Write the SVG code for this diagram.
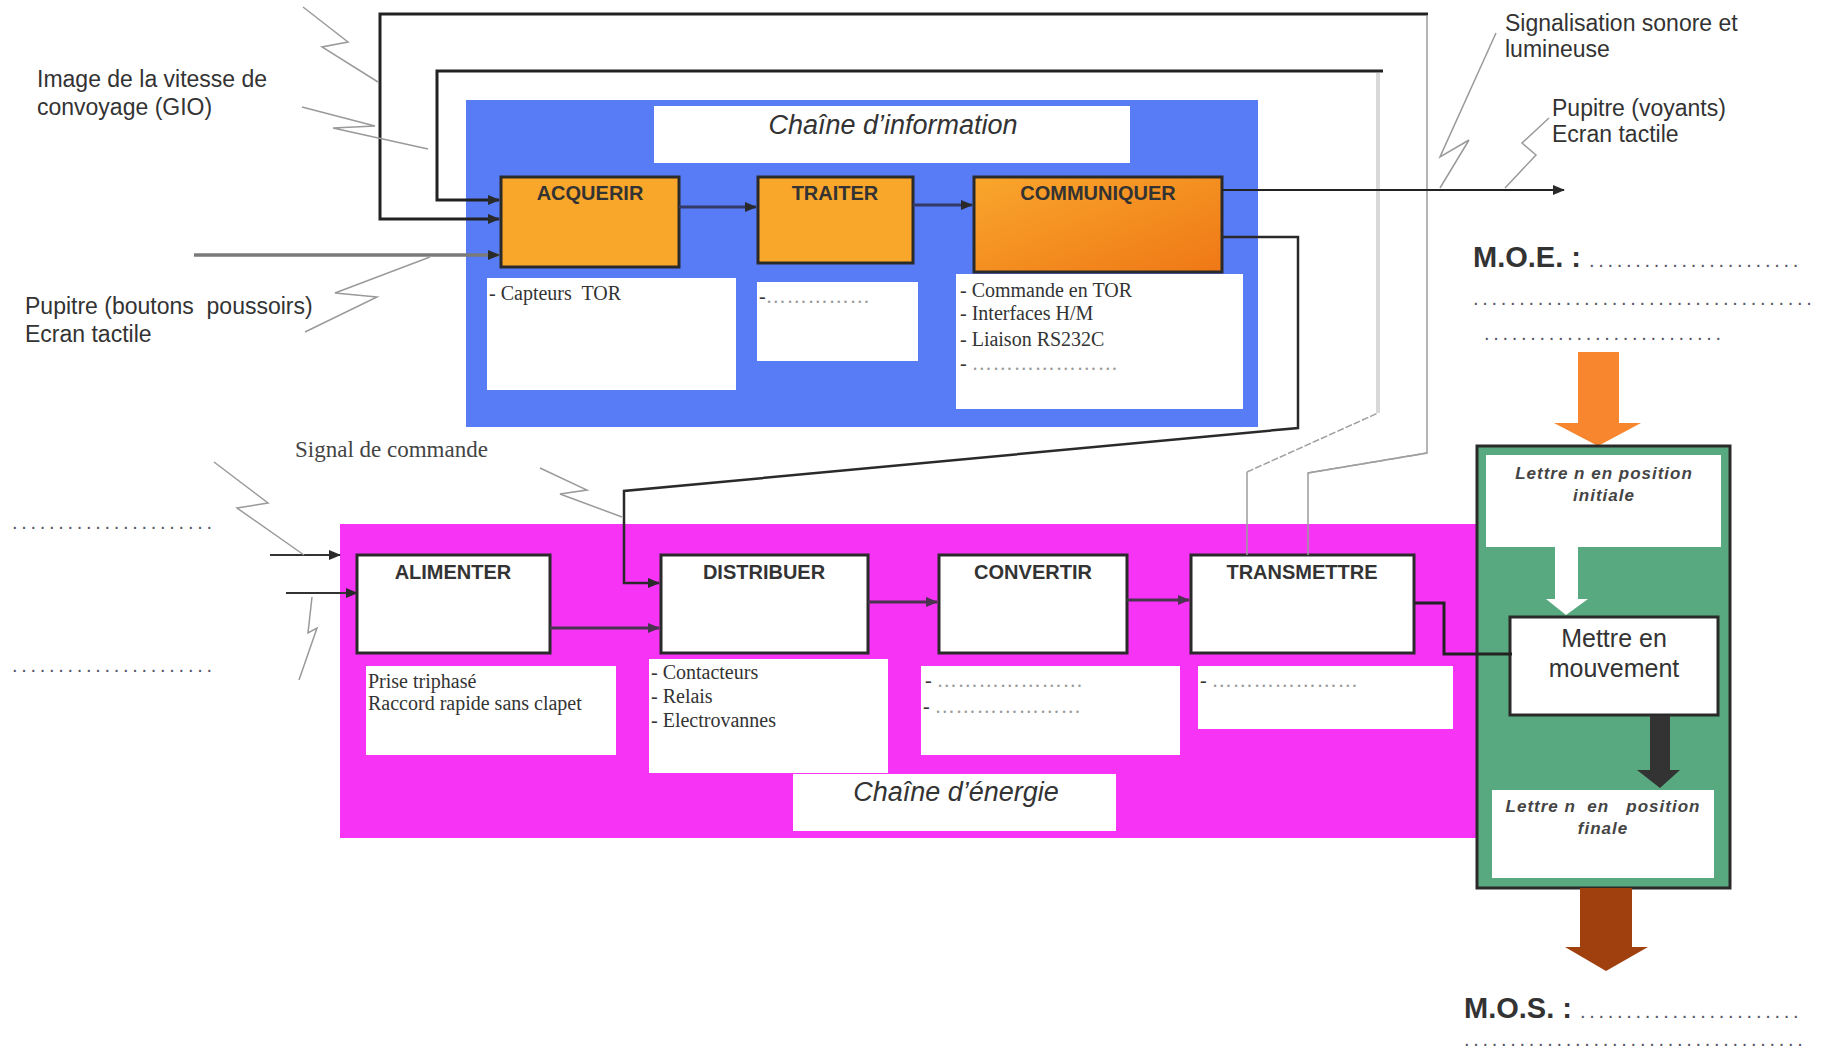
<svg xmlns="http://www.w3.org/2000/svg" width="1826" height="1054" viewBox="0 0 1826 1054">
<defs>
  <linearGradient id="gComm" x1="0" y1="0" x2="1" y2="1">
    <stop offset="0" stop-color="#f9a62c"/>
    <stop offset="1" stop-color="#ef7816"/>
  </linearGradient>
  <marker id="ah" markerWidth="12" markerHeight="10" refX="11" refY="5" orient="auto" markerUnits="userSpaceOnUse">
    <path d="M0,0 L12,5 L0,10 z" fill="#2a2a2a"/>
  </marker>
  <marker id="ahp" markerWidth="12" markerHeight="10" refX="11" refY="5" orient="auto" markerUnits="userSpaceOnUse">
    <path d="M0,0 L12,5 L0,10 z" fill="#4a3450"/>
  </marker>
</defs>
<style>
  .lbl{font-family:"Liberation Sans",Arial,sans-serif;font-size:23px;fill:#333}
  .fn{font-family:"Liberation Sans",Arial,sans-serif;font-size:20px;font-weight:bold;fill:#333;text-anchor:middle}
  .ttl{font-family:"Liberation Sans",Arial,sans-serif;font-size:27px;font-style:italic;fill:#333;text-anchor:middle}
  .ser{font-family:"Liberation Serif","Times New Roman",serif;font-size:20px;fill:#333}
  .sig{font-family:"Liberation Serif","Times New Roman",serif;font-size:23px;fill:#444}
  .dl{fill:#999;letter-spacing:1px}
  .big{font-family:"Liberation Sans",Arial,sans-serif;font-size:29px;font-weight:bold;fill:#333}
  .lead{font-family:"Liberation Sans",Arial,sans-serif;font-size:20px;font-weight:normal;fill:#556;letter-spacing:3.7px}
  .it{font-family:"Liberation Sans",Arial,sans-serif;font-size:17px;font-weight:bold;font-style:italic;fill:#444;text-anchor:middle;letter-spacing:1px}
  .mv{font-family:"Liberation Sans",Arial,sans-serif;font-size:25px;fill:#333;text-anchor:middle}
  .fbox{stroke:#2a2a2a;stroke-width:3}
  .wbox{fill:#ffffff}
  .bolt{fill:none;stroke:#9a9a9a;stroke-width:1.5}
  .blk{fill:none;stroke:#222;stroke-width:3}
  .gry{fill:none;stroke:#9c9c9c;stroke-width:1.5}
  .dash{fill:none;stroke:#a0a0a0;stroke-width:1.5;stroke-dasharray:7 2}
  .pc{fill:none;stroke:#4a3450;stroke-width:3}
</style>
<rect width="1826" height="1054" fill="#ffffff"/>

<!-- Information chain -->
<g id="chaine-information">
  <rect x="466" y="100" width="792" height="327" fill="#587bf6"/>
  <rect x="654" y="106" width="476" height="57" class="wbox"/>
  <text x="893" y="134" class="ttl">Chaîne d’information</text>
</g>
<g id="acquerir">
  <rect x="501" y="177" width="178" height="90" fill="#f9a72b" class="fbox"/>
  <text x="590" y="200" class="fn">ACQUERIR</text>
</g>
<g id="traiter">
  <rect x="758" y="177" width="155" height="86" fill="#f9a72b" class="fbox"/>
  <text x="835" y="200" class="fn">TRAITER</text>
</g>
<g id="communiquer">
  <rect x="974" y="177" width="248" height="95" fill="url(#gComm)" class="fbox"/>
  <text x="1098" y="200" class="fn">COMMUNIQUER</text>
</g>
<g id="acquerir-composants">
  <rect x="487" y="278" width="249" height="112" class="wbox"/>
  <text x="489" y="300" class="ser" xml:space="preserve">- Capteurs  TOR</text>
</g>
<g id="traiter-composants">
  <rect x="757" y="282" width="161" height="79" class="wbox"/>
  <text x="759" y="303" class="ser">-<tspan class="dl">……………</tspan></text>
</g>
<g id="communiquer-composants">
  <rect x="956" y="274" width="287" height="135" class="wbox"/>
  <text x="960" y="297" class="ser">- Commande en TOR</text>
  <text x="960" y="320" class="ser">- Interfaces H/M</text>
  <text x="960" y="346" class="ser">- Liaison RS232C</text>
  <text x="960" y="370" class="ser">- <tspan class="dl">…………………</tspan></text>
</g>

<!-- Energy chain -->
<g id="chaine-energie">
  <rect x="340" y="524" width="1137" height="314" fill="#f733f5"/>
  <rect x="793" y="774" width="323" height="57" class="wbox"/>
  <text x="956" y="801" class="ttl">Chaîne d’énergie</text>
</g>
<g id="alimenter">
  <rect x="357" y="555" width="193" height="98" fill="#ffffff" class="fbox"/>
  <text x="453" y="579" class="fn">ALIMENTER</text>
</g>
<g id="distribuer">
  <rect x="661" y="555" width="207" height="98" fill="#ffffff" class="fbox"/>
  <text x="764" y="579" class="fn">DISTRIBUER</text>
</g>
<g id="convertir">
  <rect x="939" y="555" width="188" height="98" fill="#ffffff" class="fbox"/>
  <text x="1033" y="579" class="fn">CONVERTIR</text>
</g>
<g id="transmettre">
  <rect x="1191" y="555" width="223" height="98" fill="#ffffff" class="fbox"/>
  <text x="1302" y="579" class="fn">TRANSMETTRE</text>
</g>
<g id="alimenter-composants">
  <rect x="366" y="666" width="250" height="89" class="wbox"/>
  <text x="368" y="688" class="ser">Prise triphasé</text>
  <text x="368" y="710" class="ser">Raccord rapide sans clapet</text>
</g>
<g id="distribuer-composants">
  <rect x="649" y="659" width="239" height="114" class="wbox"/>
  <text x="651" y="679" class="ser">- Contacteurs</text>
  <text x="651" y="703" class="ser">- Relais</text>
  <text x="651" y="727" class="ser">- Electrovannes</text>
</g>
<g id="convertir-composants">
  <rect x="921" y="666" width="259" height="89" class="wbox"/>
  <text x="925" y="687" class="ser">- <tspan class="dl">…………………</tspan></text>
  <text x="923" y="713" class="ser">- <tspan class="dl">…………………</tspan></text>
</g>
<g id="transmettre-composants">
  <rect x="1198" y="666" width="255" height="63" class="wbox"/>
  <text x="1200" y="687" class="ser">- <tspan class="dl">…………………</tspan></text>
</g>

<!-- Action / matter column -->
<g id="moe">
  <text x="1473" y="267" class="big">M.O.E. : <tspan class="lead">.......................</tspan></text>
  <text x="1473" y="305" class="lead">.....................................</text>
  <text x="1484" y="340" class="lead">..........................</text>
  <polygon points="1578,352 1619,352 1619,423 1641,423 1598,446 1554,423 1578,423" fill="#f7862f"/>
</g>
<g id="matiere-oeuvre">
  <rect x="1477" y="446" width="253" height="442" fill="#58a97f" stroke="#2a2a2a" stroke-width="3"/>
</g>
<g id="etat-initial">
  <rect x="1486" y="455" width="235" height="92" class="wbox"/>
  <text x="1604" y="479" class="it">Lettre n en position</text>
  <text x="1604" y="501" class="it">initiale</text>
  <polygon points="1555,547 1578,547 1578,599 1588,599 1566,615 1546,599 1555,599" fill="#ffffff"/>
</g>
<g id="mettre-en-mouvement">
  <rect x="1510" y="617" width="208" height="98" fill="#ffffff" stroke="#2a2a2a" stroke-width="3"/>
  <text x="1614" y="647" class="mv">Mettre en</text>
  <text x="1614" y="677" class="mv">mouvement</text>
  <polygon points="1650,716 1670,716 1670,770 1680,770 1660,788 1637,770 1650,770" fill="#333333"/>
</g>
<g id="etat-final">
  <rect x="1492" y="790" width="222" height="88" class="wbox"/>
  <text x="1603" y="812" class="it" xml:space="preserve">Lettre n  en   position</text>
  <text x="1603" y="834" class="it">finale</text>
</g>
<g id="mos">
  <polygon points="1580,888 1632,888 1632,947 1648,947 1606,971 1565,947 1580,947" fill="#a0400f"/>
  <text x="1464" y="1018" class="big">M.O.S. : <tspan class="lead">........................</tspan></text>
  <text x="1464" y="1046" class="lead">.....................................</text>
</g>

<!-- Free labels -->
<g id="labels">
  <text x="37" y="87" class="lbl">Image de la vitesse de</text>
  <text x="37" y="115" class="lbl">convoyage (GIO)</text>
  <text x="25" y="314" class="lbl" xml:space="preserve">Pupitre (boutons  poussoirs)</text>
  <text x="25" y="342" class="lbl">Ecran tactile</text>
  <text x="1505" y="31" class="lbl">Signalisation sonore et</text>
  <text x="1505" y="57" class="lbl">lumineuse</text>
  <text x="1552" y="116" class="lbl">Pupitre (voyants)</text>
  <text x="1552" y="142" class="lbl">Ecran tactile</text>
  <text x="295" y="457" class="sig">Signal de commande</text>
  <text x="12" y="529" class="lead">......................</text>
  <text x="12" y="672" class="lead">......................</text>
</g>

<!-- Connectors -->
<g id="connectors">
  <!-- feedback loops from TRANSMETTRE to ACQUERIR -->
  <polyline points="1308,555 1308,473 1427,453 1427,16" class="gry"/>
  <path d="M1308,473 L1427,453" class="dash"/>
  <path d="M1428,14 H380 V219 H499" class="blk" marker-end="url(#ah)"/>
  <polyline points="1247,555 1247,472" class="gry"/>
  <path d="M1247,472 L1378,413" class="dash"/>
  <path d="M1378,413 V73" fill="none" stroke="#d9d9d9" stroke-width="4"/>
  <path d="M1383,71 H437 V200 H499" class="blk" marker-end="url(#ah)"/>
  <!-- Pupitre input -->
  <path d="M194,255 H499" fill="none" stroke="#7a7a7a" stroke-width="3.5" marker-end="url(#ah)"/>
  <!-- information chain flow -->
  <path d="M679,207 H756" fill="none" stroke="#333a66" stroke-width="3" marker-end="url(#ah)"/>
  <path d="M913,205 H972" fill="none" stroke="#333a66" stroke-width="3" marker-end="url(#ah)"/>
  <path d="M1222,190 H1564" fill="none" stroke="#222" stroke-width="2" marker-end="url(#ah)"/>
  <!-- signal de commande -->
  <path d="M1222,237 H1298 V428 L624,491 V583 H659" fill="none" stroke="#2a2a2a" stroke-width="2.5" marker-end="url(#ah)"/>
  <!-- energy chain flow -->
  <path d="M270,555 H340" fill="none" stroke="#333" stroke-width="2" marker-end="url(#ah)"/>
  <path d="M286,593 H357" fill="none" stroke="#333" stroke-width="2" marker-end="url(#ah)"/>
  <path d="M550,628 H659" class="pc" marker-end="url(#ahp)"/>
  <path d="M868,602 H937" class="pc" marker-end="url(#ahp)"/>
  <path d="M1127,600 H1189" class="pc" marker-end="url(#ahp)"/>
  <path d="M1414,603 H1444 V654 H1512" class="blk"/>
  <!-- lightning leaders -->
  <polyline points="303,7 348,42 322,47 378,82" class="bolt"/>
  <polyline points="302,107 375,126 333,128 428,149" class="bolt"/>
  <polyline points="305,332 377,297 335,293 430,257" class="bolt"/>
  <polyline points="1440,188 1469,140 1440,157 1496,33" class="bolt"/>
  <polyline points="1505,188 1536,155 1522,143 1549,118" class="bolt"/>
  <polyline points="214,462 268,503 237,508 304,555" class="bolt"/>
  <polyline points="312,597 308,633 317,628 299,680" class="bolt"/>
  <polyline points="540,468 587,490 560,494 622,517" class="bolt"/>
</g>
</svg>
